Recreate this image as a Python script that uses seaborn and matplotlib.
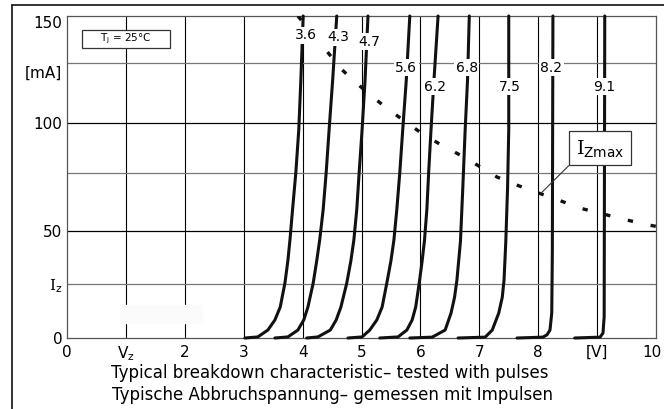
import numpy as np
import pandas as pd
import matplotlib.pyplot as plt
import matplotlib.transforms as mtrans
import seaborn as sns
from matplotlib.lines import Line2D
from matplotlib.patches import Rectangle

sns.set_theme(style='white')
plt.rcParams['font.family'] = ['DejaVu Sans']
plt.rcParams['mathtext.fontset'] = 'dejavuserif'
plt.rcParams['text.color'] = 'black'
plt.rcParams['xtick.color'] = 'black'
plt.rcParams['ytick.color'] = 'black'

# breakdown curves (V, mA)
diodes = ['3.6', '4.3', '4.7', '5.6', '6.2', '6.8', '7.5', '8.2', '9.1']
v_36 = [3.02, 3.24, 3.41, 3.53, 3.62, 3.70, 3.75, 3.785, 3.83, 3.885, 3.935, 3.97, 4.01]
i_36 = [0, 0.5, 3.7, 8.4, 14.4, 25.6, 36, 45.6, 60, 77, 97, 120, 150]
v_43 = [3.53, 3.75, 3.92, 4.02, 4.09, 4.18, 4.24, 4.29, 4.35, 4.40, 4.45, 4.51, 4.58]
i_43 = [0, 0.5, 3.7, 8.4, 14.4, 25.6, 36, 45.6, 60, 77, 97, 120, 150]
v_47 = [4.07, 4.26, 4.47, 4.57, 4.65, 4.75, 4.82, 4.87, 4.92, 4.96, 5.01, 5.06, 5.11]
i_47 = [0, 0.5, 3.7, 8.4, 14.4, 25.6, 36, 45.6, 60, 77, 97, 120, 150]
v_56 = [4.77, 5.01, 5.14, 5.26, 5.35, 5.43, 5.50, 5.55, 5.60, 5.65, 5.70, 5.76, 5.82]
i_56 = [0, 0.5, 3.7, 8.4, 14.4, 25.6, 36, 45.6, 60, 77, 97, 120, 150]
v_62 = [5.31, 5.62, 5.77, 5.86, 5.92, 5.98, 6.03, 6.07, 6.11, 6.14, 6.18, 6.23, 6.30]
i_62 = [0, 0.5, 3.7, 8.4, 14.4, 25.6, 36, 45.6, 60, 77, 97, 120, 150]
v_68 = [5.82, 6.20, 6.42, 6.52, 6.58, 6.62, 6.68, 6.72, 6.76, 6.80, 6.83]
i_68 = [0, 0.4, 3.7, 11.6, 19, 27, 45, 70, 97, 120, 150]
v_75 = [6.64, 7.10, 7.22, 7.33, 7.39, 7.42, 7.45, 7.48, 7.50, 7.50]
i_75 = [0, 0.4, 3.7, 11.6, 19, 27, 45, 70, 97, 150]
v_82 = [7.64, 8.08, 8.15, 8.20, 8.23, 8.24, 8.25]
i_82 = [0, 0.4, 1.5, 3.7, 11.6, 40, 150]
v_91 = [8.62, 9.05, 9.10, 9.12, 9.13]
i_91 = [0, 0.4, 2.3, 10, 150]

# I_Zmax limit curve
vmax = [3.92, 4.41, 4.63, 4.86, 5.16, 5.43, 6.04, 6.35, 6.69, 7.0, 7.30,
        7.66, 8.01, 8.37, 8.71, 9.07, 9.44, 9.81, 10.0]
imax = [150, 133.7, 126, 120, 113, 107, 95, 90, 85, 80, 75,
        71, 67.5, 64, 60.5, 58, 55.4, 53, 52]

xticks = [0, 1, 2, 3, 4, 5, 6, 7, 8, 9, 10]
xlabels = ['0', r'$\mathsf{V}_\mathsf{z}$', '2', '3', '4', '5', '6', '7', '8', '[V]', '10']
yticks = [0, 25, 50, 100, 124, 147]
ylabels = ['0', r'$\mathrm{I}_\mathsf{z}$', '50', '100', '[mA]', '150']

vs = [v_36, v_43, v_47, v_56, v_62, v_68, v_75, v_82, v_91]
is_ = [i_36, i_43, i_47, i_56, i_62, i_68, i_75, i_82, i_91]
df = pd.concat([pd.DataFrame({'V': v, 'I': i, 'diode': d}) for d, v, i in zip(diodes, vs, is_)])
df_max = pd.DataFrame({'V': vmax, 'I': imax})

fig = plt.figure(figsize=(6.64, 4.09), dpi=100)
ax = fig.add_axes([67/664, 1-338/409, 589/664, 322/409])

# grid
for x in range(1, 10):
    ax.axvline(x, color='black', lw=0.8, zorder=1)
for y, c in [(25, '#777777'), (50, 'black'), (77, '#777777'), (100, 'black'), (128, '#777777')]:
    ax.axhline(y, color=c, lw=0.9, zorder=1)
ax.add_patch(Rectangle((0.9, 7), 1.4, 8.5, color='#fbfbfb', zorder=2))

sns.lineplot(data=df, x='V', y='I', hue='diode', palette=['#111111']*9,
             sort=False, estimator=None, lw=2.2, legend=False, ax=ax, zorder=3)
for ln in ax.lines[-9:]:
    ln.set_clip_on(False)
    ln.set_solid_joinstyle('round')
sns.lineplot(data=df_max, x='V', y='I', sort=False, estimator=None, color='#111111',
             lw=2.4, ax=ax, zorder=3)
ax.lines[-1].set_linestyle((0, (1.6, 5.4)))

# curve labels
lab_x = [4.06, 4.60, 5.13, 5.76, 6.25, 6.79, 7.52, 8.22, 9.12]
lab_y = [141, 140, 138, 126, 117, 126, 117, 126, 117]
for d, x, y in zip(diodes, lab_x, lab_y):
    ax.text(x, y, d, ha='center', va='center', fontsize=10, zorder=5,
            bbox=dict(boxstyle='square,pad=0.1', fc='white', ec='none'))

ax.annotate(r'$\mathrm{I}_{\mathsf{Zmax}}$', xy=(8.05, 67.5), xytext=(9.05, 88.5),
            ha='center', va='center', fontsize=14, zorder=6,
            bbox=dict(boxstyle='square,pad=0.35', fc='white', ec='#333333', lw=0.9),
            arrowprops=dict(arrowstyle='-', lw=0.8, color='#333333', relpos=(0, 0),
                            shrinkA=0, shrinkB=0))

ax.add_patch(Rectangle((0.0255, 0.9006), 0.1495, 0.0559, transform=ax.transAxes,
                       fc='white', ec='#333333', lw=0.9, zorder=6))
ax.text(0.1, 0.9286, r'$\mathsf{T}_\mathsf{j}$ = 25°C', transform=ax.transAxes,
        ha='center', va='center', fontsize=7.5, zorder=7)

ax.set_xlim(0, 10)
ax.set_ylim(0, 150)
ax.set_xticks(xticks, xlabels, fontsize=11)
ax.set_yticks(yticks, ylabels, fontsize=11)
ax.tick_params(axis='both', length=0)
ax.tick_params(axis='x', pad=5)
ax.tick_params(axis='y', pad=3.5)
ax.set_xlabel(None)
ax.set_ylabel(None)
last = ax.get_xticklabels()[-1]
last.set_transform(last.get_transform() + mtrans.ScaledTranslation(-4/100, 0, fig.dpi_scale_trans))
for s in ax.spines.values():
    s.set_color('#555555')
    s.set_linewidth(0.9)

# outer frame (top and left edges)
fig.add_artist(Line2D([12/664, 1], [1-5/409, 1-5/409], color='#222222', lw=1.3))
fig.add_artist(Line2D([12/664, 12/664], [0, 1-5/409], color='#222222', lw=1.3))

fig.text(330/664, 1-378/409, 'Typical breakdown characteristic– tested with pulses',
         ha='center', va='baseline', fontsize=12)
fig.text(332/664, 1-400/409, 'Typische Abbruchspannung– gemessen mit Impulsen',
         ha='center', va='baseline', fontsize=12)

fig.savefig('out.png', dpi=100)
